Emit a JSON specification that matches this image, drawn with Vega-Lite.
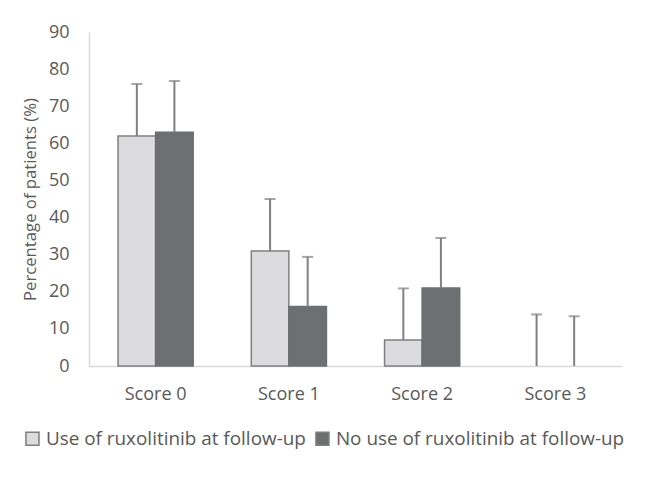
{
  "$schema": "https://vega.github.io/schema/vega-lite/v6.json",
  "autosize": "none",
  "width": 533,
  "height": 334,
  "padding": {"left": 89, "top": 32, "right": 28, "bottom": 111},
  "background": "white",
  "data": {
    "values": [
      {"score": "Score 0", "group": "Use of ruxolitinib at follow-up", "value": 62, "upper": 76},
      {"score": "Score 0", "group": "No use of ruxolitinib at follow-up", "value": 63, "upper": 76.8},
      {"score": "Score 1", "group": "Use of ruxolitinib at follow-up", "value": 31, "upper": 45},
      {"score": "Score 1", "group": "No use of ruxolitinib at follow-up", "value": 16, "upper": 29.4},
      {"score": "Score 2", "group": "Use of ruxolitinib at follow-up", "value": 7, "upper": 20.9},
      {"score": "Score 2", "group": "No use of ruxolitinib at follow-up", "value": 21, "upper": 34.5},
      {"score": "Score 3", "group": "Use of ruxolitinib at follow-up", "value": 0, "upper": 13.9},
      {"score": "Score 3", "group": "No use of ruxolitinib at follow-up", "value": 0, "upper": 13.4}
    ]
  },
  "encoding": {
    "x": {
      "field": "score",
      "type": "nominal",
      "title": null,
      "scale": {"paddingInner": 0.436, "paddingOuter": 0.218},
      "axis": {
        "labelAngle": 0,
        "labelFontSize": 18,
        "labelColor": "#595959",
        "labelPadding": 19,
        "domainColor": "#d9d9d9",
        "domainWidth": 1.5,
        "ticks": false
      }
    },
    "xOffset": {
      "field": "group",
      "type": "nominal",
      "sort": ["Use of ruxolitinib at follow-up", "No use of ruxolitinib at follow-up"],
      "scale": {"paddingInner": 0, "paddingOuter": 0}
    },
    "y": {
      "field": "value",
      "type": "quantitative",
      "title": "Percentage of patients (%)",
      "scale": {"domain": [0, 90], "nice": false},
      "axis": {
        "values": [0, 10, 20, 30, 40, 50, 60, 70, 80, 90],
        "labelOverlap": false,
        "grid": false,
        "ticks": false,
        "labelFontSize": 18,
        "labelColor": "#595959",
        "labelPadding": 20,
        "domainColor": "#d9d9d9",
        "domainWidth": 1.5,
        "titleFontSize": 16.7,
        "titleFontWeight": "normal",
        "titleColor": "#595959",
        "titlePadding": 9
      }
    }
  },
  "layer": [
    {
      "transform": [{"filter": "datum.value > 0"}],
      "mark": {"type": "bar", "strokeWidth": 1.5},
      "encoding": {
        "fill": {
          "field": "group",
          "type": "nominal",
          "sort": ["Use of ruxolitinib at follow-up", "No use of ruxolitinib at follow-up"],
          "scale": {"range": ["#dcdcde", "#6e6f71"]},
          "legend": {
            "title": null,
            "orient": "none",
            "direction": "horizontal",
            "legendX": -66,
            "legendY": 397,
            "symbolType": "square",
            "symbolSize": 170,
            "symbolStrokeWidth": 1.5,
            "symbolStrokeColor": "#7f7f7f",
            "labelFontSize": 18.9,
            "labelColor": "#595959",
            "labelOffset": 4,
            "columnPadding": 6,
            "labelLimit": 400
          }
        },
        "stroke": {
          "field": "group",
          "type": "nominal",
          "sort": ["Use of ruxolitinib at follow-up", "No use of ruxolitinib at follow-up"],
          "scale": {"range": ["#7f7f7f", "#6e6f71"]},
          "legend": null
        }
      }
    },
    {
      "mark": {"type": "rule", "color": "#808080", "strokeWidth": 2},
      "encoding": {
        "y2": {"field": "upper"}
      }
    },
    {
      "mark": {"type": "tick", "color": "#808080", "size": 11, "thickness": 2},
      "encoding": {
        "y": {"field": "upper", "type": "quantitative"}
      }
    }
  ],
  "config": {
    "font": "Open Sans",
    "view": {"stroke": null}
  }
}
